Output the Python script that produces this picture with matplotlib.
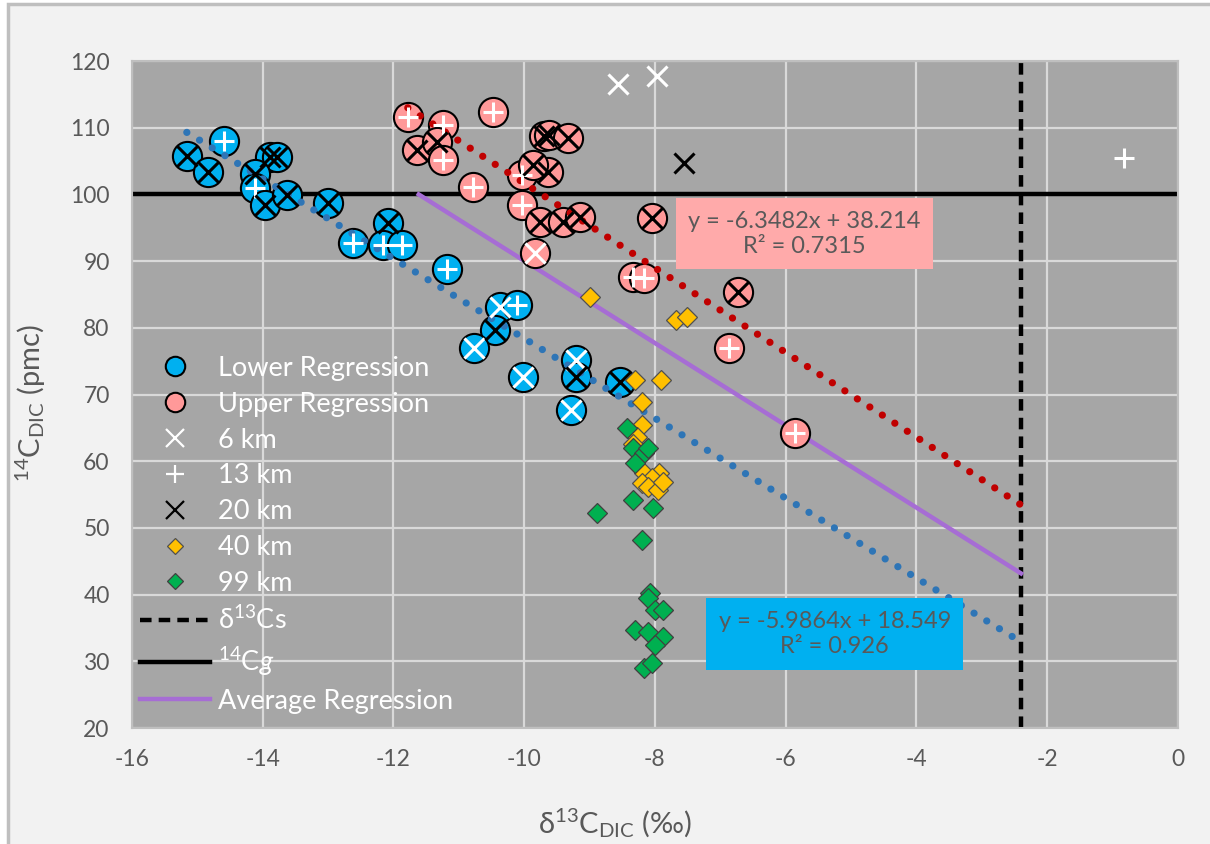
import matplotlib
matplotlib.use("Agg")
import matplotlib.pyplot as plt
import numpy as np
from matplotlib.lines import Line2D
from matplotlib.patches import Rectangle

plt.rcParams["font.family"] = ["Lato", "DejaVu Sans"]
plt.rcParams["mathtext.fontset"] = "custom"
plt.rcParams["mathtext.rm"] = "Lato"
plt.rcParams["mathtext.it"] = "Lato:italic"
plt.rcParams["mathtext.bf"] = "Lato:bold"
plt.rcParams["axes.unicode_minus"] = False

# ---------------------------------------------------------------
# data: d13C (permil) vs 14C (pmc)
# ---------------------------------------------------------------

# samples fitted by the lower regression, with the site distance (km)
lower_x = [-15.16, -14.84, -14.59, -13.89, -13.78, -14.12, -14.12, -13.97,
           -13.63, -13.00, -12.09, -12.62, -12.16, -11.87, -11.18, -10.37,
           -10.11, -10.45, -10.76, -10.02, -9.20, -9.20, -9.28, -8.54]
lower_y = [105.7, 103.4, 108.0, 105.6, 105.6, 103.0, 101.0, 98.4,
           99.9, 98.7, 95.7, 92.7, 92.4, 92.4, 88.8, 83.1,
           83.4, 79.7, 77.0, 72.6, 75.2, 72.6, 67.7, 71.9]
lower_site = [20, 20, 13, 20, 20, 20, 13, 20,
              20, 20, 20, 13, 13, 13, 13, 6,
              13, 20, 6, 6, 6, 20, 6, 20]

# samples fitted by the upper regression
upper_x = [-11.78, -11.24, -11.64, -11.34, -11.24, -10.79, -10.48, -9.70,
           -9.62, -9.33, -10.04, -9.64, -9.87, -10.04, -9.76, -9.41,
           -9.15, -9.84, -8.05, -8.34, -8.16, -6.73, -6.86, -5.85]
upper_y = [111.6, 110.4, 106.7, 107.9, 105.2, 101.1, 112.4, 108.7,
           108.9, 108.4, 102.9, 103.4, 104.4, 98.4, 95.9, 95.9,
           96.6, 91.2, 96.5, 87.6, 87.5, 85.4, 77.0, 64.2]
upper_site = [13, 13, 20, 20, 13, 13, 13, 20,
              20, 20, 13, 20, 20, 13, 20, 20,
              20, 6, 20, 13, 13, 20, 13, 13]

# samples outside both regressions
km6_x = [-8.57, -7.97]
km6_y = [116.6, 117.8]
km13_x = [-0.82]
km13_y = [105.5]
km20_x = [-7.56]
km20_y = [104.7]

km40_x = [-9.00, -7.67, -7.51, -8.31, -7.90, -8.19, -8.19, -8.28,
          -8.33, -8.16, -7.93, -8.05, -8.20, -8.11, -7.96, -7.88]
km40_y = [84.6, 81.2, 81.6, 72.2, 72.2, 68.9, 65.4, 63.6,
          62.6, 58.2, 58.2, 57.5, 56.7, 56.1, 55.7, 56.9]

km99_x = [-8.42, -8.34, -8.16, -8.11, -8.31, -8.34, -8.03, -8.89,
          -8.19, -8.08, -8.11, -8.00, -7.88, -8.31, -8.11, -7.88,
          -8.00, -8.16, -8.05]
km99_y = [65.0, 62.0, 61.2, 62.0, 59.7, 54.2, 53.0, 52.2,
          48.2, 40.2, 39.5, 37.7, 37.7, 34.7, 34.4, 33.6,
          32.4, 29.0, 29.7]

# end members
d13c_soil = -2.4
c14_atm = 100

# linear fits: slope, intercept, R2
lower_fit = (-5.9864, 18.549, 0.926)
upper_fit = (-6.3482, 38.214, 0.7315)

# ---------------------------------------------------------------
# colours
# ---------------------------------------------------------------

BG = "#A6A6A6"
GRID = "#D9D9D9"
TXT = "#595959"
BLUE = "#00B0F0"
PINK = "#FF9999"
PINK_BOX = "#FFAAAA"
DOT_BLUE = "#2E75B6"
DOT_RED = "#C00000"
PURPLE = "#A66DD4"
YELLOW = "#FFC000"
GREEN = "#00B050"

# ---------------------------------------------------------------
# figure
# ---------------------------------------------------------------

fig = plt.figure(figsize=(12.1, 8.44), dpi=100, facecolor="white")
fig.patches.append(
    Rectangle((0.0066, -0.02), 1.02, 1.0153, transform=fig.transFigure,
              facecolor="#F2F2F2", edgecolor="#BFBFBF", linewidth=2.5,
              zorder=-10)
)

ax = fig.add_axes([0.109, 0.1374, 0.8645, 0.7903])
ax.set_facecolor(BG)
ax.set_xlim(-16, 0)
ax.set_ylim(20, 120)
ax.set_xticks(np.arange(-16, 1, 2))
ax.set_yticks(np.arange(20, 121, 10))
ax.grid(True, color=GRID, linewidth=1.6, zorder=0)
ax.set_axisbelow(True)
ax.tick_params(length=0, labelsize=16.5, labelcolor=TXT)
ax.tick_params(axis="x", pad=15)
ax.tick_params(axis="y", pad=16)
for s in ax.spines.values():
    s.set_color("#BFBFBF")
    s.set_linewidth(1.5)

# reference lines
ax.axhline(c14_atm, color="black", linewidth=3.2, zorder=2)
ax.axvline(d13c_soil, color="black", linewidth=3.2,
           linestyle=(0, (2.6, 1.6)), zorder=2)

# average of the two regressions, from the 100 pmc line to the soil value
avg_m = (lower_fit[0] + upper_fit[0]) / 2
avg_b = (lower_fit[1] + upper_fit[1]) / 2
avg_x = np.array([(c14_atm - avg_b) / avg_m, d13c_soil])
ax.plot(avg_x, avg_m * avg_x + avg_b, color=PURPLE, linewidth=3.2, zorder=3)

# regression groups
ax.scatter(lower_x, lower_y, s=21 ** 2, facecolor=BLUE, edgecolor="black",
           linewidth=1.5, zorder=4)
ax.scatter(upper_x, upper_y, s=21 ** 2, facecolor=PINK, edgecolor="black",
           linewidth=1.5, zorder=4)

# dotted trend lines, extended to the soil value
for fit, xs, col in [(lower_fit, lower_x, DOT_BLUE), (upper_fit, upper_x, DOT_RED)]:
    tx = np.array([min(xs), d13c_soil])
    ax.plot(tx, fit[0] * tx + fit[1], color=col, linewidth=5.2,
            linestyle=(0, (0.01, 2.05)), dash_capstyle="round", zorder=5)

# site markers
site_style = {
    6: dict(marker="x", color="white"),
    13: dict(marker="+", color="white"),
    20: dict(marker="x", color="black"),
}
site_extra = {6: (km6_x, km6_y), 13: (km13_x, km13_y), 20: (km20_x, km20_y)}
for site, st in site_style.items():
    xs = [x for x, k in zip(lower_x + upper_x, lower_site + upper_site) if k == site]
    ys = [y for y, k in zip(lower_y + upper_y, lower_site + upper_site) if k == site]
    xs += site_extra[site][0]
    ys += site_extra[site][1]
    ax.plot(xs, ys, linestyle="none", marker=st["marker"], color=st["color"],
            markersize=15, markeredgewidth=2.2, zorder=6)

ax.plot(km40_x, km40_y, linestyle="none", marker="D", markersize=10.5,
        markerfacecolor=YELLOW, markeredgecolor="#505050",
        markeredgewidth=0.9, zorder=7)
ax.plot(km99_x, km99_y, linestyle="none", marker="D", markersize=10.5,
        markerfacecolor=GREEN, markeredgecolor="#404040",
        markeredgewidth=0.9, zorder=7)

# equation labels
for fit, xc, yc, face in [(upper_fit, -5.71, 94.1, PINK_BOX),
                          (lower_fit, -5.25, 34.1, BLUE)]:
    ax.text(xc, yc,
            f"y = {fit[0]:.4f}x + {fit[1]:.3f}\nR² = {fit[2]:g}",
            ha="center", va="center", multialignment="center",
            fontsize=17, color=TXT, linespacing=1.25, zorder=8,
            bbox=dict(facecolor=face, edgecolor="none", pad=9))

# axis titles
ax.set_xlabel(r"δ$^{13}$C$_{\mathrm{DIC}}$ (‰)", fontsize=21, color=TXT)
ax.xaxis.set_label_coords(0.462, -0.118)
ax.set_ylabel(r"$^{14}$C$_{\mathrm{DIC}}$ (pmc)", fontsize=21, color=TXT)
ax.yaxis.set_label_coords(-0.08, 0.487)

# legend
handles = [
    Line2D([], [], linestyle="none", marker="o", markersize=14,
           markerfacecolor=BLUE, markeredgecolor="black", markeredgewidth=1.5),
    Line2D([], [], linestyle="none", marker="o", markersize=14,
           markerfacecolor=PINK, markeredgecolor="black", markeredgewidth=1.5),
    Line2D([], [], linestyle="none", marker="x", markersize=13,
           color="white", markeredgewidth=1.6),
    Line2D([], [], linestyle="none", marker="+", markersize=13,
           color="white", markeredgewidth=1.6),
    Line2D([], [], linestyle="none", marker="x", markersize=13,
           color="black", markeredgewidth=1.6),
    Line2D([], [], linestyle="none", marker="D", markersize=8,
           markerfacecolor=YELLOW, markeredgecolor="#505050", markeredgewidth=0.9),
    Line2D([], [], linestyle="none", marker="D", markersize=8,
           markerfacecolor=GREEN, markeredgecolor="#404040", markeredgewidth=0.9),
    Line2D([], [], color="black", linewidth=3.2, linestyle=(0, (2.6, 1.6))),
    Line2D([], [], color="black", linewidth=3.2),
    Line2D([], [], color=PURPLE, linewidth=3.2),
]
labels = ["Lower Regression", "Upper Regression", "6 km", "13 km", "20 km",
          "40 km", "99 km", r"δ$^{13}$Cs", r"$^{14}$C$\mathit{g}$",
          "Average Regression"]
leg = ax.legend(handles, labels, loc="upper left",
                bbox_to_anchor=(0.0076, 0.558), frameon=False, fontsize=19.5,
                handlelength=2.6, handletextpad=0.27, labelspacing=0.4,
                borderpad=0, borderaxespad=0)
for t in leg.get_texts():
    t.set_color("white")
leg.set_zorder(9)

fig.savefig("out.png", dpi=100, facecolor=fig.get_facecolor())
